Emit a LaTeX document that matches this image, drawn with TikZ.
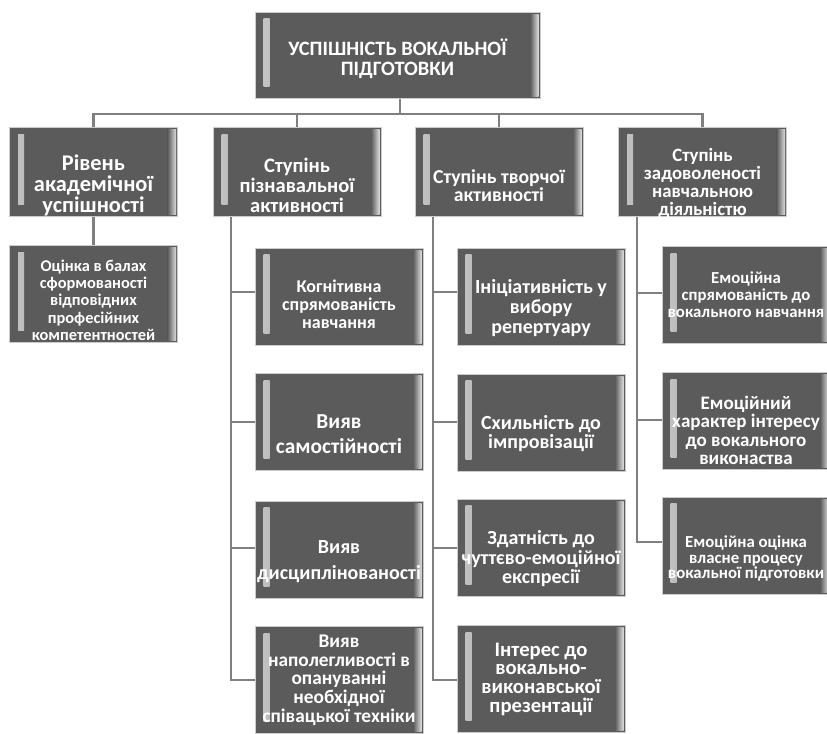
\documentclass[tikz,border=0pt]{standalone}
\usepackage{fontspec}
\setmainfont{Carlito}
\usepackage{xcolor}
\usepackage{tikz}
\usetikzlibrary{positioning, calc}
\definecolor{boxgray}{HTML}{5B5B5B}
\definecolor{linegray}{HTML}{808080}
\newcommand{\fs}[2]{\bfseries\fontsize{#1}{#2}\selectfont}

\begin{document}
\begin{tikzpicture}
				[x= 0.75pt, y= -0.75pt,
				box/.style = {rectangle, fill=boxgray, draw=gray!40, line width=0.6pt, inner sep=0pt,
					path picture={
						\shade[left color=gray!45, right color=boxgray]
							([xshift=6.5pt,yshift=-5pt]path picture bounding box.north west) rectangle
							([xshift=11pt,yshift=9pt]path picture bounding box.south west);
						\shade[left color=boxgray, right color=gray!25]
							([xshift=-7.5pt,yshift=-1.5pt]path picture bounding box.north east) rectangle
							([xshift=-1pt,yshift=1.5pt]path picture bounding box.south east);
					}},
				txt/.style = {text=white, align=center, font=\fs{13}{15}},
				root/.style = {box, minimum width=213.75pt, minimum height=64.5pt},
				head/.style = {box, minimum width=126pt, minimum height=66.75pt},
				leaf/.style = {box, minimum width=126pt, minimum height=72.75pt},
				tall/.style = {box, minimum width=126pt, minimum height=80pt},
				conn/.style = {draw=linegray, line width=1.8pt}]
				\useasboundingbox (0,0) rectangle (827,733);
				\clip (0,0) rectangle (827,733);
				% connectors first, boxes on top
				\coordinate (bar) at (400,114);
				\coordinate (rb) at (400,98);
				\coordinate (ta) at (93.5,128);
				\coordinate (tb) at (297,128);
				\coordinate (tc) at (499,128);
				\coordinate (td) at (702.5,128);
				\draw[conn] (rb)--(bar);
				\draw[conn] (ta)--(ta |- bar)--(td |- bar)--(td);
				\draw[conn] (tb)--(tb |- bar);
				\draw[conn] (tc)--(tc |- bar);
				\coordinate (sa) at (93.5,215);
				\coordinate (sb) at (231,217);
				\coordinate (sc) at (433,217);
				\coordinate (sd) at (637,217);
				\draw[conn] (sa)--(93.5,246);
				\foreach \y in {292,422,548,680} {
					\draw[conn] (sb)--(sb |- 0,\y)--(256,\y);
					\draw[conn] (sc)--(sc |- 0,\y)--(458,\y);
				}
				\foreach \y in {293,420,542} {
					\draw[conn] (sd)--(sd |- 0,\y)--(663,\y);
				}
				% boxes
				\node[root, label={[txt, font=\fs{15.3}{15}, yshift=-2.6pt]center:УСПІШНІСТЬ ВОКАЛЬНОЇ\\ПІДГОТОВКИ}] (r) at (397.5,55) {};
				\node[head, label={[txt, font=\fs{16.8}{15.5}, yshift=-10pt]center:Рівень\\академічної\\успішності}] (a) at (93.5,172) {};
				\node[head, label={[txt, font=\fs{15.4}{15}, yshift=-10pt]center:Ступінь\\пізнавальної\\активності}] (b) at (297,172) {};
				\node[head, label={[txt, font=\fs{14.8}{12.5}, yshift=-10pt]center:Ступінь творчої\\активності}] (c) at (499,172) {};
				\node[head, label={[txt, font=\fs{14.1}{13.3}, yshift=-8.5pt]center:Ступінь\\задоволеності\\навчальною\\діяльністю}] (d) at (702.5,172) {};
				\node[leaf, label={[txt, font=\fs{12.3}{13}, yshift=-4.5pt]center:Оцінка в балах\\сформованості\\відповідних\\професійних\\компетентностей}] (a1) at (93.5,294) {};
				\node[leaf, label={[txt, font=\fs{13.5}{13.5}, yshift=-6pt]center:Когнітивна\\спрямованість\\навчання}] (b1) at (339,296.5) {};
				\node[leaf, label={[txt, font=\fs{16}{18.5}, yshift=-9pt]center:Вияв\\самостійності}] (b2) at (339,422) {};
				\node[leaf, label={[txt, font=\fs{15}{20}, yshift=-9pt]center:Вияв\\дисциплінованості}] (b3) at (339,549.5) {};
				\node[tall, label={[txt, font=\fs{14.5}{14}]center:Вияв\\наполегливості в\\опануванні\\необхідної\\співацької техніки}] (b4) at (339,680) {};
				\node[leaf, label={[txt, font=\fs{15}{15}, yshift=-8.5pt]center:Ініціативність у\\вибору\\репертуару}] (c1) at (541,296.5) {};
				\node[leaf, label={[txt, font=\fs{15}{14.5}, yshift=-8.5pt]center:Схильність до\\імпровізації}] (c2) at (541,422.5) {};
				\node[leaf, label={[txt, font=\fs{15}{14.5}, yshift=-8.5pt]center:Здатність до\\чуттєво-емоційної\\експресії}] (c3) at (541,547.5) {};
				\node[tall, label={[txt, font=\fs{15.5}{14}]center:Інтерес до\\вокально-\\виконавської\\презентації}] (c4) at (541,679) {};
				\node[leaf, label={[txt, font=\fs{12.6}{12.75}]center:Емоційна\\спрямованість до\\вокального навчання}] (d1) at (746,295) {};
				\node[leaf, label={[txt, font=\fs{14.3}{13.75}, yshift=-7pt]center:Емоційний\\характер інтересу\\до вокального\\виконаства}] (d2) at (746,421) {};
				\node[leaf, label={[txt, font=\fs{12.6}{11.6}, yshift=-10pt]center:Емоційна оцінка\\власне процесу\\вокальної підготовки}] (d3) at (746,545.5) {};
\end{tikzpicture}
\end{document}
